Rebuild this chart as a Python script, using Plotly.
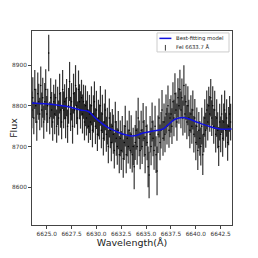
import numpy as np
import plotly.graph_objects as go

flux = [
    8790, 8820, 8770, 8840, 8800, 8760, 8830, 8810, 8780, 8850,
    8790, 8820, 8760, 8810, 8840, 8780, 8800, 8930, 8770, 8820,
    8790, 8760, 8810, 8780, 8820, 8750, 8800, 8770, 8830, 8790,
    8760, 8840, 8790, 8810, 8770, 8820, 8750, 8800, 8860, 8780,
    8810, 8750, 8830, 8790, 8850, 8800, 8770, 8840, 8810, 8790,
    8820, 8780, 8810, 8760, 8800, 8770, 8790, 8750, 8780, 8760,
    8800, 8740, 8780, 8810, 8750, 8790, 8730, 8770, 8760, 8800,
    8740, 8780, 8720, 8760, 8790, 8730, 8750, 8700, 8770, 8740,
    8710, 8750, 8730, 8690, 8760, 8720, 8700, 8740, 8680, 8720,
    8690, 8730, 8670, 8710, 8750, 8680, 8720, 8700, 8740, 8690,
    8730, 8680, 8700, 8650, 8710, 8740, 8700, 8770, 8720, 8690,
    8740, 8700, 8760, 8720, 8680, 8750, 8710, 8650, 8630, 8730,
    8700, 8760, 8720, 8690, 8750, 8680, 8640, 8730, 8770, 8710,
    8740, 8790, 8720, 8760, 8730, 8780, 8750, 8800, 8740, 8770,
    8780, 8750, 8810, 8770, 8830, 8790, 8760, 8820, 8800, 8840,
    8790, 8820, 8770, 8850, 8780, 8810, 8760, 8800, 8770, 8740,
    8780, 8750, 8790, 8730, 8770, 8710, 8750, 8690, 8740, 8720,
    8700, 8750, 8680, 8730, 8770, 8740, 8790, 8760, 8800, 8780,
    8820, 8770, 8800, 8750, 8790, 8730, 8770, 8740, 8700, 8760,
    8730, 8780, 8720, 8760, 8790, 8740, 8770, 8710, 8750, 8780, 8760,
]
err = [
    45, 50, 40, 48, 42, 46, 52, 44, 40, 47,
    43, 49, 41, 46, 50, 44, 42, 45, 40, 48,
    44, 46, 42, 50, 45, 41, 47, 43, 49, 44,
    42, 48, 45, 43, 50, 46, 41, 44, 48, 42,
    46, 43, 49, 44, 50, 45, 41, 47, 43, 46,
    44, 48, 42, 45, 50, 43, 46, 41, 47, 44,
    48, 42, 46, 50, 44, 47, 41, 45, 43, 49,
    44, 47, 42, 46, 50, 43, 45, 41, 48, 44,
    46, 42, 48, 44, 50, 43, 45, 47, 46, 44,
    48, 45, 47, 43, 50, 46, 44, 42, 48, 45,
    47, 44, 46, 55, 43, 48, 45, 50, 44, 46,
    48, 43, 47, 45, 46, 49, 44, 50, 57, 45,
    46, 48, 44, 47, 50, 45, 60, 46, 48, 44,
    45, 49, 43, 46, 44, 48, 45, 50, 43, 47,
    46, 44, 48, 45, 50, 43, 46, 48, 44, 49,
    45, 47, 43, 50, 46, 44, 42, 48, 45, 44,
    46, 43, 48, 45, 47, 44, 46, 48, 45, 43,
    47, 45, 50, 44, 46, 43, 48, 45, 47, 44,
    46, 44, 48, 43, 47, 45, 46, 44, 48, 45,
    44, 47, 45, 46, 48, 43, 46, 45, 47, 44, 45,
]
wave = np.round(6623.5 + 0.1 * np.arange(len(flux)), 1)

model_wave = [6623.5, 6624.8, 6626.0, 6627.3, 6628.4, 6629.2, 6629.9, 6631.0, 6632.0,
              6632.9, 6633.5, 6634.0, 6634.7, 6635.7, 6636.7, 6637.2, 6637.9,
              6638.9, 6640.0, 6641.4, 6642.4, 6643.6]
model_flux = [8807, 8805, 8802, 8797, 8790, 8786, 8770, 8749, 8737,
              8729, 8726, 8727, 8733, 8738, 8743, 8753, 8767,
              8771, 8761, 8749, 8743, 8743]

legend_labels = ["Best-fitting model", "FeI 6633.7 Å"]

fig = go.Figure()
fig.add_trace(go.Scatter(
    x=wave, y=flux, mode="markers",
    marker=dict(size=1.5, color="black"),
    error_y=dict(type="data", array=err, visible=True, width=0,
                 thickness=1.2, color="rgba(0,0,0,0.8)"),
    showlegend=False,
))
fig.add_trace(go.Scatter(
    x=model_wave, y=model_flux, mode="lines", line=dict(color="#1010e0", width=1.5),
    name=legend_labels[0], line_shape="spline", showlegend=False,
))

# manual compact legend
fig.add_shape(type="rect", xref="paper", yref="paper", x0=0.625, x1=0.985, y0=0.892, y1=0.99,
              line=dict(color="#cccccc", width=1), fillcolor="white", layer="above")
fig.add_shape(type="line", xref="paper", yref="paper", x0=0.637, x1=0.697, y0=0.962, y1=0.962,
              line=dict(color="#1010e0", width=1.5), layer="above")
fig.add_shape(type="line", xref="paper", yref="paper", x0=0.667, x1=0.667, y0=0.899, y1=0.928,
              line=dict(color="rgba(40,40,40,0.9)", width=1), layer="above")
for lbl, yy in zip(legend_labels, [0.962, 0.915]):
    fig.add_annotation(x=0.712, y=yy, xref="paper", yref="paper", text=lbl, showarrow=False,
                       xanchor="left", yanchor="middle",
                       font=dict(size=5.3, color="#222", family="DejaVu Sans"))

axis_common = dict(showgrid=False, zeroline=False, showline=True, linecolor="#444",
                   linewidth=1, mirror=True, ticks="outside", ticklen=3, tickcolor="#444",
                   automargin=False, tickangle=0,
                   tickfont=dict(size=5.8, color="#333", family="DejaVu Sans"))
fig.update_xaxes(range=[6623.52, 6643.64], tickvals=[6625, 6627.5, 6630, 6632.5, 6635, 6637.5, 6640, 6642.5],
                 ticktext=["6625.0", "6627.5", "6630.0", "6632.5", "6635.0", "6637.5", "6640.0", "6642.5"],
                 title=dict(text="Wavelength(Å)", font=dict(size=9.5, color="#222", family="DejaVu Sans"), standoff=1),
                 **axis_common)
fig.update_yaxes(range=[8507, 8984], tickvals=[8600, 8700, 8800, 8900],
                 title=dict(text="Flux", font=dict(size=9.5, color="#222", family="DejaVu Sans"), standoff=4),
                 **axis_common)
fig.update_layout(
    width=250, height=250, margin=dict(l=24, r=26, t=23, b=33),
    plot_bgcolor="white", paper_bgcolor="white", showlegend=False,
)
fig.write_html("out.html")
